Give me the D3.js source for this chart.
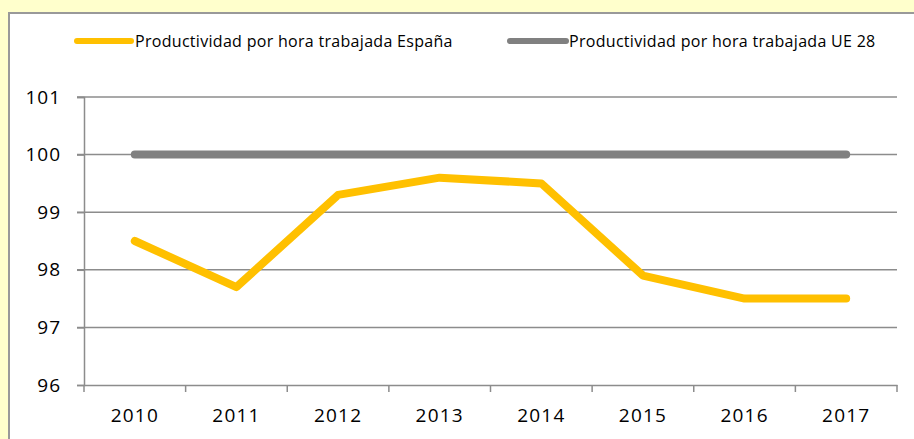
<!DOCTYPE html>
<html><head><meta charset="utf-8">
<script src="https://cdn.jsdelivr.net/npm/d3@7"></script>
<style>
html,body{margin:0;padding:0;background:#FFFFCC;}
svg{display:block;}
text{font-family:"Open Sans","Liberation Sans",sans-serif;fill:#000;}
</style></head>
<body>
<svg id="chart" width="914" height="439"></svg>
<script>
const years = ["2010","2011","2012","2013","2014","2015","2016","2017"];
const spain = [98.5, 97.7, 99.3, 99.6, 99.5, 97.9, 97.5, 97.5];
const eu28 = [100, 100, 100, 100, 100, 100, 100, 100];
const yTicks = [96, 97, 98, 99, 100, 101];
const seriesNames = ["Productividad por hora trabajada España", "Productividad por hora trabajada UE 28"];
const seriesColors = ["#FFC000", "#808080"];

const svg = d3.select("#chart");
// white chart box
svg.append("rect").attr("x", 9).attr("y", 13).attr("width", 920).attr("height", 440)
  .attr("fill", "#fff").attr("stroke", "#999").attr("stroke-width", 2);

const pLeft = 84, pRight = 897, pTop = 97, pBottom = 385;
const x = d3.scaleBand().domain(years).range([pLeft, pRight]).paddingInner(0).paddingOuter(0);
const y = d3.scaleLinear().domain([96, 101]).range([pBottom, pTop]);

// gridlines
svg.append("g").selectAll("line").data(yTicks.filter(t => t !== 96)).join("line")
  .attr("x1", pLeft - 7).attr("x2", pRight).attr("y1", d => y(d)).attr("y2", d => y(d))
  .attr("stroke", "#8c8c8c").attr("stroke-width", 1.5);

// y axis
const yAxis = svg.append("g").attr("transform", `translate(${pLeft},0)`)
  .call(d3.axisLeft(y).tickValues(yTicks).tickSize(7).tickPadding(16).tickFormat(d3.format("d")));
yAxis.select(".domain").attr("stroke", "#8c8c8c").attr("stroke-width", 1.5);
yAxis.selectAll(".tick line").attr("stroke", "#8c8c8c").attr("stroke-width", 1.5);
yAxis.selectAll(".tick text").style("font-size", "19px").style("letter-spacing", "1px").attr("fill", "#000");

// x axis
const xAxis = svg.append("g").attr("transform", `translate(0,${pBottom})`)
  .call(d3.axisBottom(x).tickSize(0).tickPadding(24));
xAxis.select(".domain").attr("stroke", "#8c8c8c").attr("stroke-width", 1.5);
xAxis.selectAll(".tick text").style("font-size", "19px").style("letter-spacing", "1.2px").attr("fill", "#000").attr("dy", "0.71em");
// boundary ticks
const bounds = years.map(d => x(d)).concat([x(years[years.length - 1]) + x.bandwidth()]);
xAxis.append("g").selectAll("line").data(bounds).join("line")
  .attr("x1", d => d).attr("x2", d => d).attr("y1", 0).attr("y2", 7)
  .attr("stroke", "#8c8c8c").attr("stroke-width", 1.5);

const cx = d => x(d) + x.bandwidth() / 2;
const line = d3.line().x((d, i) => cx(years[i])).y(d => y(d));

[eu28, spain].forEach((s, k) => {
  svg.append("path").datum(s).attr("d", line).attr("fill", "none")
    .attr("stroke", k === 0 ? seriesColors[1] : seriesColors[0])
    .attr("stroke-width", 8).attr("stroke-linecap", "round").attr("stroke-linejoin", "round");
});

// legend
const legendItems = [{x1: 77, x2: 131, tx: 135}, {x1: 510, x2: 566, tx: 569}];
legendItems.forEach((it, i) => {
  svg.append("line").attr("x1", it.x1).attr("x2", it.x2).attr("y1", 41).attr("y2", 41)
    .attr("stroke", seriesColors[i]).attr("stroke-width", 6).attr("stroke-linecap", "round");
  svg.append("text").attr("x", it.tx).attr("y", 41).attr("dy", "0.35em")
    .style("font-size", "16px").style("letter-spacing", "0.3px").text(seriesNames[i]);
});
</script>
</body></html>
